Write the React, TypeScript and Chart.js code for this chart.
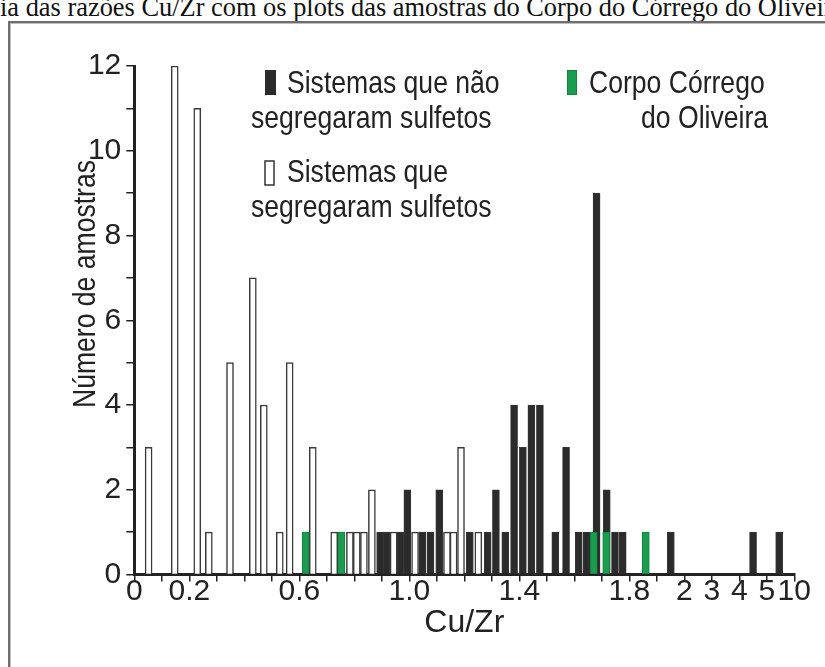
import { useEffect, useRef } from 'react';
import { Chart, registerables } from 'chart.js';

Chart.register(...registerables);

const FONT = "'Liberation Sans', Arial, sans-serif";
const INK = '#222222';
const DARK = '#2b2b2b';
const GREEN = '#1a9d4f';
// horizontal squeeze for the condensed legend / y-title lettering
const CONDENSE = 0.83;

// Cu/Zr value at each x-axis tick; the axis is compressed beyond 2.0
const xTickValues = [0, 0.1, 0.2, 0.3, 0.4, 0.5, 0.6, 0.7, 0.8, 0.9, 1.0, 1.1, 1.2, 1.3, 1.4, 1.5, 1.6, 1.7, 1.8, 1.9, 2.0, 3, 4, 5, 10];
const xTickLabels = ['0', '', '0.2', '', '', '', '0.6', '', '', '', '1.0', '', '', '', '1.4', '', '', '', '1.8', '', '2', '3', '4', '5', '10'];

// Sistemas que segregaram sulfetos
const segRatio = [0.052, 0.147, 0.229, 0.271, 0.348, 0.431, 0.471, 0.529, 0.565, 0.649, 0.727, 0.784, 0.809, 0.835, 0.864, 0.943, 1.021, 1.137, 1.161, 1.188, 1.251];
const segCount = [3, 12, 11, 1, 5, 7, 4, 1, 5, 3, 1, 1, 1, 1, 2, 1, 1, 1, 1, 3, 1];

// Sistemas que não segregaram sulfetos
const naoSegRatio = [0.894, 0.918, 0.967, 0.993, 1.048, 1.077, 1.109, 1.22, 1.285, 1.315, 1.349, 1.381, 1.413, 1.444, 1.475, 1.531, 1.57, 1.616, 1.644, 1.681, 1.718, 1.748, 1.776, 1.951, 4.5, 7.25];
const naoSegCount = [1, 1, 1, 2, 1, 1, 2, 1, 1, 2, 1, 4, 3, 4, 4, 1, 3, 1, 1, 9, 2, 1, 1, 1, 1, 1];

// Corpo Córrego do Oliveira
const oliveiraRatio = [0.623, 0.753, 1.671, 1.716, 1.86];
const oliveiraCount = [1, 1, 1, 1, 1];

// position of a Cu/Zr value on the piecewise tick axis
function axisPos(v: number): number {
  for (let i = 0; i < xTickValues.length - 1; i++) {
    const a = xTickValues[i];
    const b = xTickValues[i + 1];
    if (v <= b) return i + (v - a) / (b - a);
  }
  return xTickValues.length - 1;
}

function points(ratios: number[], counts: number[]) {
  return ratios.map((v, i) => ({ x: axisPos(v), y: counts[i] }));
}

function condensedText(ctx: CanvasRenderingContext2D, text: string, x: number, y: number, align: CanvasTextAlign) {
  ctx.save();
  ctx.translate(x, y);
  ctx.scale(CONDENSE, 1);
  ctx.textAlign = align;
  ctx.fillText(text, 0, 0);
  ctx.restore();
}

const overlay = {
  id: 'overlayText',
  afterDraw(chart: any) {
    const ctx = chart.ctx as CanvasRenderingContext2D;
    ctx.save();
    ctx.font = `32px ${FONT}`;
    ctx.textBaseline = 'alphabetic';

    // legend swatches
    ctx.fillStyle = DARK;
    ctx.fillRect(265, 70, 11, 25);
    ctx.fillStyle = '#ffffff';
    ctx.fillRect(265, 161, 9, 24);
    ctx.strokeStyle = '#333333';
    ctx.lineWidth = 1.5;
    ctx.strokeRect(265, 161, 9, 24);
    ctx.fillStyle = GREEN;
    ctx.fillRect(567, 70, 10, 25);
    ctx.strokeStyle = '#11823f';
    ctx.lineWidth = 1;
    ctx.strokeRect(567.5, 70.5, 9, 24);

    // legend labels
    ctx.fillStyle = INK;
    condensedText(ctx, 'Sistemas que não', 287, 93, 'left');
    condensedText(ctx, 'segregaram sulfetos', 251, 128, 'left');
    condensedText(ctx, 'Sistemas que', 287, 182, 'left');
    condensedText(ctx, 'segregaram sulfetos', 251, 217, 'left');
    condensedText(ctx, 'Corpo Córrego', 589, 93, 'left');
    condensedText(ctx, 'do Oliveira', 768, 128, 'right');

    // y-axis title
    ctx.translate(95, 284);
    ctx.rotate(-Math.PI / 2);
    condensedText(ctx, 'Número de amostras', 0, 0, 'center');
    ctx.restore();
  },
};

export default function App() {
  const ref = useRef<HTMLCanvasElement | null>(null);

  useEffect(() => {
    if (!ref.current) return;
    const chart = new Chart(ref.current, {
      type: 'bar',
      data: {
        datasets: [
          {
            label: 'Corpo Córrego do Oliveira',
            data: points(oliveiraRatio, oliveiraCount),
            backgroundColor: GREEN,
            borderColor: '#11823f',
            borderWidth: 1,
            barThickness: 7,
            grouped: false,
          } as any,
          {
            label: 'Sistemas que segregaram sulfetos',
            data: points(segRatio, segCount),
            backgroundColor: '#ffffff',
            borderColor: '#3a3a3a',
            borderWidth: 1.5,
            barThickness: 7,
            grouped: false,
          },
          {
            label: 'Sistemas que não segregaram sulfetos',
            data: points(naoSegRatio, naoSegCount),
            backgroundColor: DARK,
            borderColor: '#3a3a3a',
            borderWidth: 0.8,
            barThickness: 7,
            grouped: false,
          },
        ],
      },
      options: {
        animation: false,
        responsive: false,
        devicePixelRatio: 1,
        layout: { padding: { left: 0, right: 30.7, top: 66, bottom: 0 } },
        plugins: { legend: { display: false }, tooltip: { enabled: false } },
        scales: {
          x: {
            type: 'linear',
            min: 0,
            max: 24,
            offset: false,
            grid: { offset: false, drawOnChartArea: false, drawTicks: true, tickLength: 7, color: INK, lineWidth: 1.5 },
            border: { display: true, color: INK, width: 3 },
            ticks: {
              stepSize: 1,
              autoSkip: false,
              maxRotation: 0,
              padding: -5,
              color: INK,
              font: { family: FONT, size: 30, lineHeight: 1 },
              callback: (v: any) => xTickLabels[Math.round(Number(v))] ?? '',
            },
            title: {
              display: true,
              text: 'Cu/Zr',
              color: INK,
              font: { family: FONT, size: 32, lineHeight: 1 },
              padding: { top: 0, bottom: 28 },
            },
            afterFit: (s: any) => {
              s.height = 92.5;
            },
          } as any,
          y: {
            min: 0,
            max: 12,
            grid: { drawOnChartArea: false, drawTicks: true, tickLength: 8, color: INK, lineWidth: 1.5 },
            border: { display: true, color: INK, width: 3 },
            ticks: {
              stepSize: 1,
              padding: 5,
              color: INK,
              font: { family: FONT, size: 30, lineHeight: 1 },
              callback: (v: any) => (Number(v) % 2 === 0 ? String(v) : ''),
            },
            afterFit: (s: any) => {
              s.width = 134.3;
            },
          } as any,
        },
      },
      plugins: [overlay],
    });
    return () => chart.destroy();
  }, []);

  return (
    <div style={{ position: 'fixed', left: 0, top: 0, width: 825, height: 667, overflow: 'hidden', background: '#ffffff' }}>
      <div
        style={{
          position: 'absolute',
          left: 0,
          top: -6,
          whiteSpace: 'nowrap',
          font: "26.4px 'Liberation Serif', 'Times New Roman', serif",
          lineHeight: '26px',
          color: '#111111',
        }}
      >
        ia das razões Cu/Zr com os plots das amostras do Corpo do Córrego do Oliveira
      </div>
      <div
        style={{
          position: 'absolute',
          left: 8,
          top: 21,
          width: 900,
          height: 800,
          border: '2px solid #6e6e6e',
          boxShadow: 'inset 1px 1px 0 #bdbdbd',
        }}
      />
      <canvas ref={ref} width={825} height={667} style={{ position: 'absolute', left: 0, top: 0, display: 'block' }} />
    </div>
  );
}
